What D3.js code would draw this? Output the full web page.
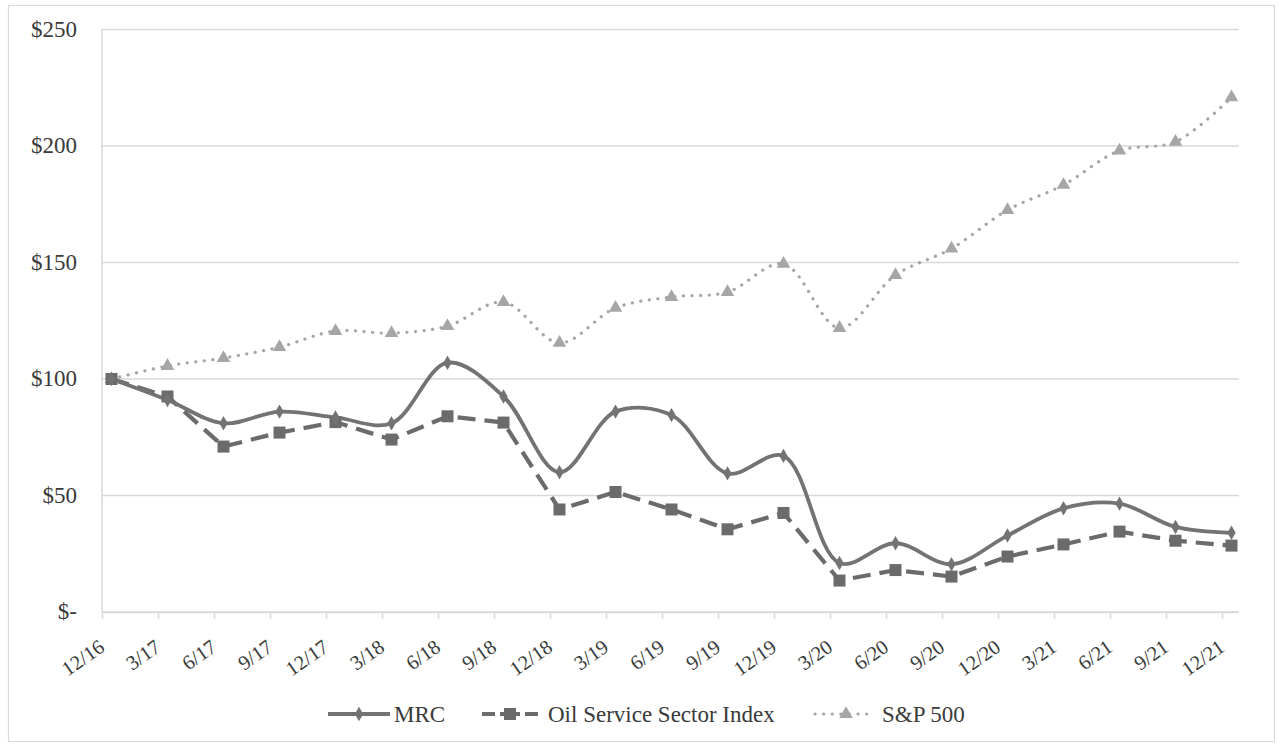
<!DOCTYPE html>
<html>
<head>
<meta charset="utf-8">
<script src="https://cdn.jsdelivr.net/npm/d3@7"></script>
<style>
  html, body { margin: 0; padding: 0; background: #fff; }
  svg { display: block; }
  text { font-family: "Liberation Serif", "Times New Roman", serif; }
</style>
</head>
<body>
<svg id="chart" width="1279" height="744"></svg>
<script>
const categories = ["12/16","3/17","6/17","9/17","12/17","3/18","6/18","9/18","12/18","3/19","6/19","9/19","12/19","3/20","6/20","9/20","12/20","3/21","6/21","9/21","12/21"];
const mrc = [100, 91, 81, 86, 83.5, 81, 107, 92.5, 60, 86, 84.5, 59.5, 67, 21, 29.5, 20.5, 32.8, 44.5, 46.5, 36.5, 34];
const oilService = [100, 92.5, 71, 77, 81.5, 74, 84, 81.3, 44, 51.5, 44, 35.5, 42.5, 13.5, 18, 15.2, 23.8, 29, 34.5, 30.6, 28.5];
const sp500 = [100, 105.6, 109, 113.7, 120.6, 119.7, 122.7, 133, 115.5, 130.5, 135.2, 137.3, 149.4, 121.9, 144.6, 156, 172.5, 183.3, 198, 201.8, 220.9];
const yTicks = [0, 50, 100, 150, 200, 250];
const yTickLabels = ["$-", "$50", "$100", "$150", "$200", "$250"];
const seriesNames = ["MRC", "Oil Service Sector Index", "S&P 500"];

const svg = d3.select("#chart");

// outer border
svg.append("rect").attr("x", 8.5).attr("y", 5.5).attr("width", 1266).attr("height", 736)
  .attr("fill", "#fff").attr("stroke", "#d9d9d9").attr("stroke-width", 1.2);

const plotLeft = 102, plotRight = 1239, plotTop = 29.5, plotBottom = 612;

const x = d3.scalePoint().domain(categories).range([111.5, 1231.5]);
const xTick = d3.scalePoint().domain(categories).range([102, 1222]);
const y = d3.scaleLinear().domain([0, 250]).range([plotBottom, plotTop]);

// gridlines
svg.append("g").selectAll("line").data(yTicks).join("line")
  .attr("x1", plotLeft).attr("x2", plotRight)
  .attr("y1", d => y(d)).attr("y2", d => y(d))
  .attr("stroke", "#d9d9d9").attr("stroke-width", 1.5);

// left axis line
svg.append("line").attr("x1", plotLeft).attr("x2", plotLeft).attr("y1", plotTop).attr("y2", plotBottom)
  .attr("stroke", "#d9d9d9").attr("stroke-width", 1.5);

// y labels
const yAxis = d3.axisLeft(y).tickValues(yTicks).tickSize(0).tickPadding(0)
  .tickFormat((d, i) => yTickLabels[i]);
const gy = svg.append("g").attr("transform", "translate(77,0)").call(yAxis);
gy.select(".domain").remove();
gy.selectAll("text").attr("font-family", "Liberation Serif, serif").attr("font-size", 23)
  .attr("fill", "#3a3a3a").attr("dy", "0.3em");

// x axis ticks
const xAxis = d3.axisBottom(xTick).tickSize(7).tickFormat("");
const gx = svg.append("g").attr("transform", `translate(0,${plotBottom})`).call(xAxis);
gx.select(".domain").attr("d", `M${plotLeft},0.5H${plotRight}`).attr("stroke", "#d9d9d9").attr("stroke-width", 1.5);
gx.selectAll(".tick line").attr("stroke", "#d9d9d9").attr("stroke-width", 1.5);

// x labels
svg.append("g").selectAll("text").data(categories).join("text")
  .attr("transform", d => `translate(${xTick(d) + 4},${plotBottom + 38}) rotate(-35)`)
  .attr("text-anchor", "end")
  .attr("font-size", 20.5).attr("fill", "#3a3a3a")
  .text(d => d);

// lines
const lineSmooth = d3.line().x((d, i) => x(categories[i])).y(d => y(d)).curve(d3.curveCatmullRom.alpha(0.5));
const lineStraight = d3.line().x((d, i) => x(categories[i])).y(d => y(d));

const spColor = "#a6a6a6", oilColor = "#6b6b6b", mrcColor = "#737373";

svg.append("path").datum(sp500).attr("d", lineSmooth).attr("fill", "none")
  .attr("stroke", spColor).attr("stroke-width", 3.2).attr("stroke-dasharray", "0.1 8.5").attr("stroke-linecap", "round");

svg.append("path").datum(oilService).attr("d", lineStraight).attr("fill", "none")
  .attr("stroke", oilColor).attr("stroke-width", 4.2).attr("stroke-dasharray", "18 9");

svg.append("path").datum(mrc).attr("d", lineSmooth).attr("fill", "none")
  .attr("stroke", mrcColor).attr("stroke-width", 3.8);

// markers
const tri = d3.symbol().type(d3.symbolTriangle).size(80);
svg.append("g").selectAll("path").data(sp500).join("path")
  .attr("transform", (d, i) => `translate(${x(categories[i])},${y(d)})`)
  .attr("d", tri).attr("fill", spColor);

svg.append("g").selectAll("rect").data(oilService).join("rect")
  .attr("x", (d, i) => x(categories[i]) - 6).attr("y", d => y(d) - 6)
  .attr("width", 12).attr("height", 12).attr("fill", oilColor);

const diamond = d3.symbol().type(d3.symbolDiamond).size(60);
svg.append("g").selectAll("path").data(mrc).join("path")
  .attr("transform", (d, i) => `translate(${x(categories[i])},${y(d)})`)
  .attr("d", diamond).attr("fill", mrcColor);

// legend
const ly = 714;
const leg = svg.append("g");
// MRC
leg.append("line").attr("x1", 328).attr("x2", 390).attr("y1", ly).attr("y2", ly)
  .attr("stroke", mrcColor).attr("stroke-width", 3.8);
leg.append("path").attr("transform", `translate(359,${ly})`).attr("d", diamond).attr("fill", mrcColor);
leg.append("text").attr("x", 394).attr("y", ly).attr("dy", "0.33em").attr("font-size", 23).attr("fill", "#3a3a3a").text(seriesNames[0]);
// Oil
leg.append("line").attr("x1", 482).attr("x2", 538).attr("y1", ly).attr("y2", ly)
  .attr("stroke", oilColor).attr("stroke-width", 4.2).attr("stroke-dasharray", "13 5 20 5 13");
leg.append("rect").attr("x", 504).attr("y", ly - 6).attr("width", 12).attr("height", 12).attr("fill", oilColor);
leg.append("text").attr("x", 548).attr("y", ly).attr("dy", "0.33em").attr("font-size", 23).attr("fill", "#3a3a3a").text(seriesNames[1]);
// S&P
leg.append("line").attr("x1", 815).attr("x2", 871).attr("y1", ly).attr("y2", ly)
  .attr("stroke", spColor).attr("stroke-width", 3.2).attr("stroke-dasharray", "0.1 8.5").attr("stroke-linecap", "round");
leg.append("path").attr("transform", `translate(846,${ly})`).attr("d", tri).attr("fill", spColor);
leg.append("text").attr("x", 882).attr("y", ly).attr("dy", "0.33em").attr("font-size", 23).attr("fill", "#3a3a3a").text(seriesNames[2]);
</script>
</body>
</html>
